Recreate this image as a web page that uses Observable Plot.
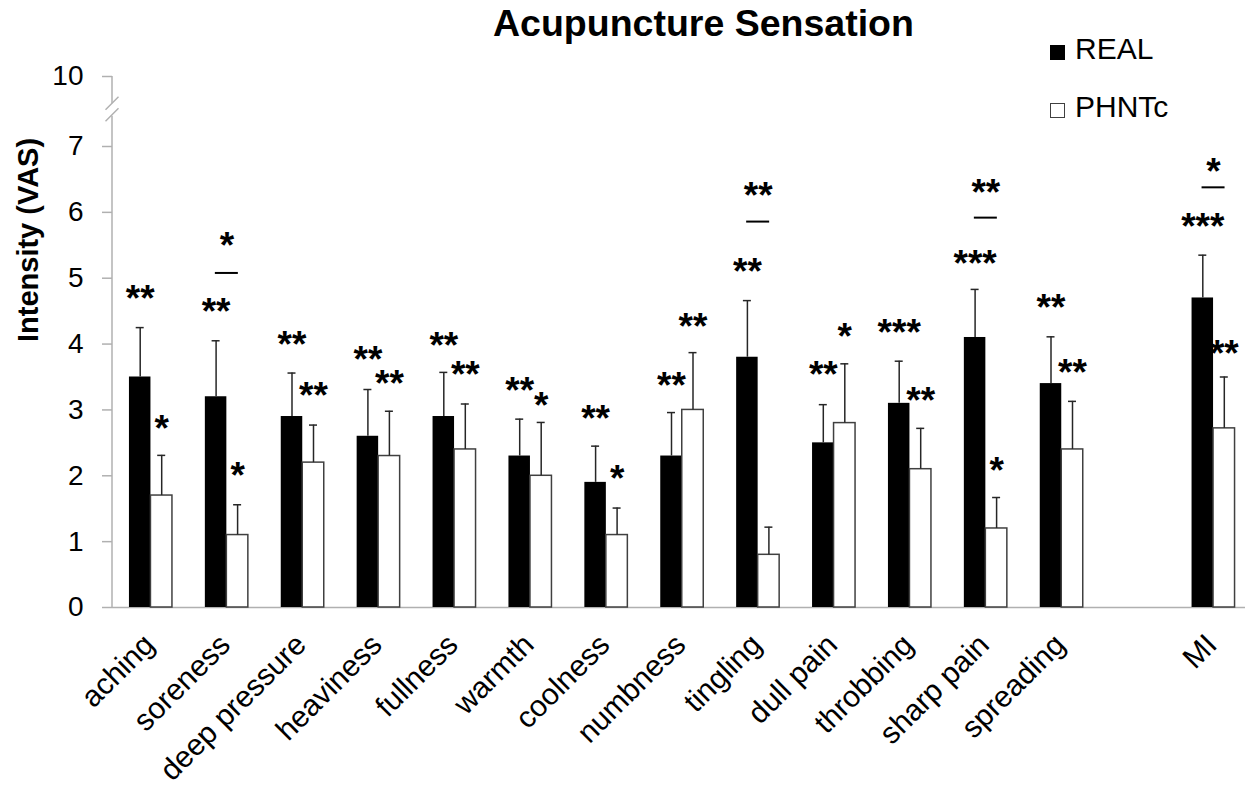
<!DOCTYPE html>
<html>
<head>
<meta charset="utf-8">
<script src="https://cdn.jsdelivr.net/npm/d3@7"></script>
<script src="https://cdn.jsdelivr.net/npm/@observablehq/plot@0.6"></script>
<style>
  body { margin: 0; background: #fff; }
  #wrap { position: relative; width: 1245px; height: 786px; font-family: "Liberation Sans", Arial, sans-serif; color: #000; overflow: hidden; }
  #title { position: absolute; left: 493px; top: 5px; font-size: 37.5px; line-height: 37.5px; font-weight: bold; white-space: nowrap; }
  .sw { position: absolute; width: 15px; height: 15px; box-sizing: border-box; }
  .lt { position: absolute; font-size: 30px; line-height: 30px; white-space: nowrap; }
</style>
</head>
<body>
<div id="wrap">
  <div id="chart"></div>
  <div id="title"></div>
  <div id="legend"></div>
</div>
<script>
// ---------- data ----------
const chartTitle = "Acupuncture Sensation";
const yLabel = "Intensity (VAS)";
const categories = ["aching", "soreness", "deep pressure", "heaviness", "fullness", "warmth", "coolness",
  "numbness", "tingling", "dull pain", "throbbing", "sharp pain", "spreading", "MI"];
const seriesNames = ["REAL", "PHNTc"];
const real    = [3.5, 3.2, 2.9, 2.6, 2.9, 2.3, 1.9, 2.3, 3.8, 2.5, 3.1, 4.1, 3.4, 4.7];
const realSE  = [0.75, 0.85, 0.66, 0.71, 0.67, 0.56, 0.55, 0.66, 0.86, 0.58, 0.64, 0.73, 0.71, 0.65];
const phntc   = [1.7, 1.1, 2.2, 2.3, 2.4, 2.0, 1.1, 3.0, 0.8, 2.8, 2.1, 1.2, 2.4, 2.72];
const phntcSE = [0.61, 0.46, 0.57, 0.68, 0.69, 0.81, 0.41, 0.87, 0.42, 0.90, 0.62, 0.47, 0.73, 0.78];
// significance annotations (vs baseline), with label height in VAS units
const realStars  = ["**", "**", "**", "**", "**", "**", "**", "**", "**", "**", "***", "***", "**", "***"];
const realStarY  = [4.80, 4.61, 4.11, 3.87, 4.09, 3.40, 2.98, 3.49, 5.21, 3.65, 4.28, 5.34, 4.66, 5.89];
const phntcStars = ["*", "*", "**", "**", "**", "*", "*", "**", "", "*", "**", "*", "**", "**"];
const phntcStarY = [2.83, 2.11, 3.33, 3.51, 3.65, 3.18, 2.07, 4.38, null, 4.22, 3.25, 2.19, 3.68, 3.97];
// between-group comparisons
const cmpCats  = ["soreness", "tingling", "sharp pain", "MI"];
const cmpStars = ["*", "**", "**", "*"];
const cmpLineY = [5.08, 5.86, 5.92, 6.38];
const cmpStarY = [5.61, 6.37, 6.42, 6.73];
// y axis (broken between 7 and 10)
const yTicks = [0, 1, 2, 3, 4, 5, 6, 7, 10];
const yBreakAt = 8.6;

// ---------- layout / style ----------
const W = 1245, H = 786;
const mL = 112, mT = 76, mB = 179, mR = 0;
const breakGapPx = 70;          // pixel span between 7 and 10 on the broken axis
const bandPx = 75.9;
const barPx = 21.5;
const half = bandPx / 2;
const capPx = 8;
const axisGray = "#b0b0b0";
const errColor = "#262626";
const starFont = 37;
const starDy = 8;
const seriesFill = ["#000000", "#ffffff"];
const seriesStroke = ["none", "#404040"];

const spacer = "";
const xDomain = [...categories.slice(0, categories.length - 1), spacer, categories[categories.length - 1]];

const rows = categories.map((cat, i) => ({
  cat, real: real[i], realSE: realSE[i], phntc: phntc[i], phntcSE: phntcSE[i],
  realStar: realStars[i], realStarY: realStarY[i], phntcStar: phntcStars[i], phntcStarY: phntcStarY[i]
}));
const cmpRows = cmpCats.map((cat, i) => ({cat, star: cmpStars[i], lineY: cmpLineY[i], starY: cmpStarY[i]}));

const off = barPx / 2; // bar center offset from band center

function brokenAxis(index, scales, values, dims) {
  const y = scales.y;
  const x0 = dims.marginLeft;
  const yb = y(yBreakAt);
  const g = d3.create("svg:g").attr("stroke", axisGray).attr("stroke-width", 1.5).attr("fill", "none");
  g.append("line").attr("x1", x0).attr("x2", x0).attr("y1", y(yTicks[yTicks.length - 1])).attr("y2", yb - 5.5);
  g.append("line").attr("x1", x0).attr("x2", x0).attr("y1", yb + 7).attr("y2", y(0));
  for (const c of [yb - 5.5, yb + 6]) {
    g.append("line").attr("x1", x0 - 6.5).attr("y1", c + 6.5).attr("x2", x0 + 6.5).attr("y2", c - 6.5);
  }
  return g.node();
}

const chart = Plot.plot({
  width: W, height: H,
  marginLeft: mL, marginRight: mR, marginTop: mT, marginBottom: mB,
  style: {fontFamily: "'Liberation Sans', Arial, sans-serif", background: "transparent", overflow: "visible"},
  x: {type: "band", domain: xDomain, range: [mL + 0.5, mL + 0.5 + bandPx * xDomain.length], padding: 0, round: false, axis: null},
  y: {type: "linear", domain: [0, 7, 10], range: [H - mB, mT + breakGapPx, mT], axis: null},
  marks: [
    Plot.ruleY([0], {stroke: axisGray, strokeWidth: 1.5}),
    brokenAxis,
    Plot.axisY({ticks: yTicks, tickSize: 10, tickPadding: 19, fontSize: 28, stroke: axisGray, strokeWidth: 1.5,
      tickFormat: d => String(d), label: null}),
    // bars
    Plot.barY(rows, {x: "cat", y: "real", fill: seriesFill[0], insetLeft: half - barPx, insetRight: half}),
    Plot.barY(rows, {x: "cat", y: "phntc", fill: seriesFill[1], stroke: seriesStroke[1], strokeWidth: 1.5,
      insetLeft: half, insetRight: half - barPx}),
    // error bars (upper)
    Plot.ruleX(rows, {x: "cat", y1: "real", y2: d => d.real + d.realSE, dx: -off, stroke: errColor, strokeWidth: 1.5}),
    Plot.tickY(rows, {x: "cat", y: d => d.real + d.realSE, stroke: errColor, strokeWidth: 1.5,
      insetLeft: half - off - capPx / 2, insetRight: half + off - capPx / 2}),
    Plot.ruleX(rows, {x: "cat", y1: "phntc", y2: d => d.phntc + d.phntcSE, dx: off, stroke: errColor, strokeWidth: 1.5}),
    Plot.tickY(rows, {x: "cat", y: d => d.phntc + d.phntcSE, stroke: errColor, strokeWidth: 1.5,
      insetLeft: half + off - capPx / 2, insetRight: half - off - capPx / 2}),
    // significance stars
    Plot.text(rows, {x: "cat", y: "realStarY", text: "realStar", dx: -off, dy: starDy,
      fontSize: starFont, fontWeight: "bold", fill: "#000"}),
    Plot.text(rows.filter(d => d.phntcStar), {x: "cat", y: "phntcStarY", text: "phntcStar", dx: off, dy: starDy,
      fontSize: starFont, fontWeight: "bold", fill: "#000"}),
    // comparisons
    Plot.tickY(cmpRows, {x: "cat", y: "lineY", stroke: "#000", strokeWidth: 2,
      insetLeft: half - 11.5, insetRight: half - 11.5}),
    Plot.text(cmpRows, {x: "cat", y: "starY", text: "star", dy: starDy,
      fontSize: starFont, fontWeight: "bold", fill: "#000"}),
    // x labels
    Plot.text(categories, {x: d => d, text: d => d, frameAnchor: "bottom", rotate: -45,
      textAnchor: "end", lineAnchor: "top", dx: -10, dy: 24, fontSize: 30, fill: "#000"}),
    // y label
    Plot.text([yLabel], {text: d => d, frameAnchor: "left", rotate: -90, dx: -84,
      fontSize: 29, fontWeight: "bold", fill: "#000"})
  ]
});
document.getElementById("chart").appendChild(chart);

document.getElementById("title").textContent = chartTitle;

const legend = document.getElementById("legend");
const legendTop = [45, 102.5];
seriesNames.forEach((name, i) => {
  const sw = document.createElement("div");
  sw.className = "sw";
  sw.style.left = "1050px";
  sw.style.top = legendTop[i] + "px";
  sw.style.background = seriesFill[i];
  sw.style.border = seriesStroke[i] === "none" ? "none" : `1.5px solid ${seriesStroke[i]}`;
  legend.appendChild(sw);
  const t = document.createElement("div");
  t.className = "lt";
  t.style.left = "1075px";
  t.style.top = (legendTop[i] - 10.6) + "px";
  t.textContent = name;
  legend.appendChild(t);
});
</script>
</body>
</html>
